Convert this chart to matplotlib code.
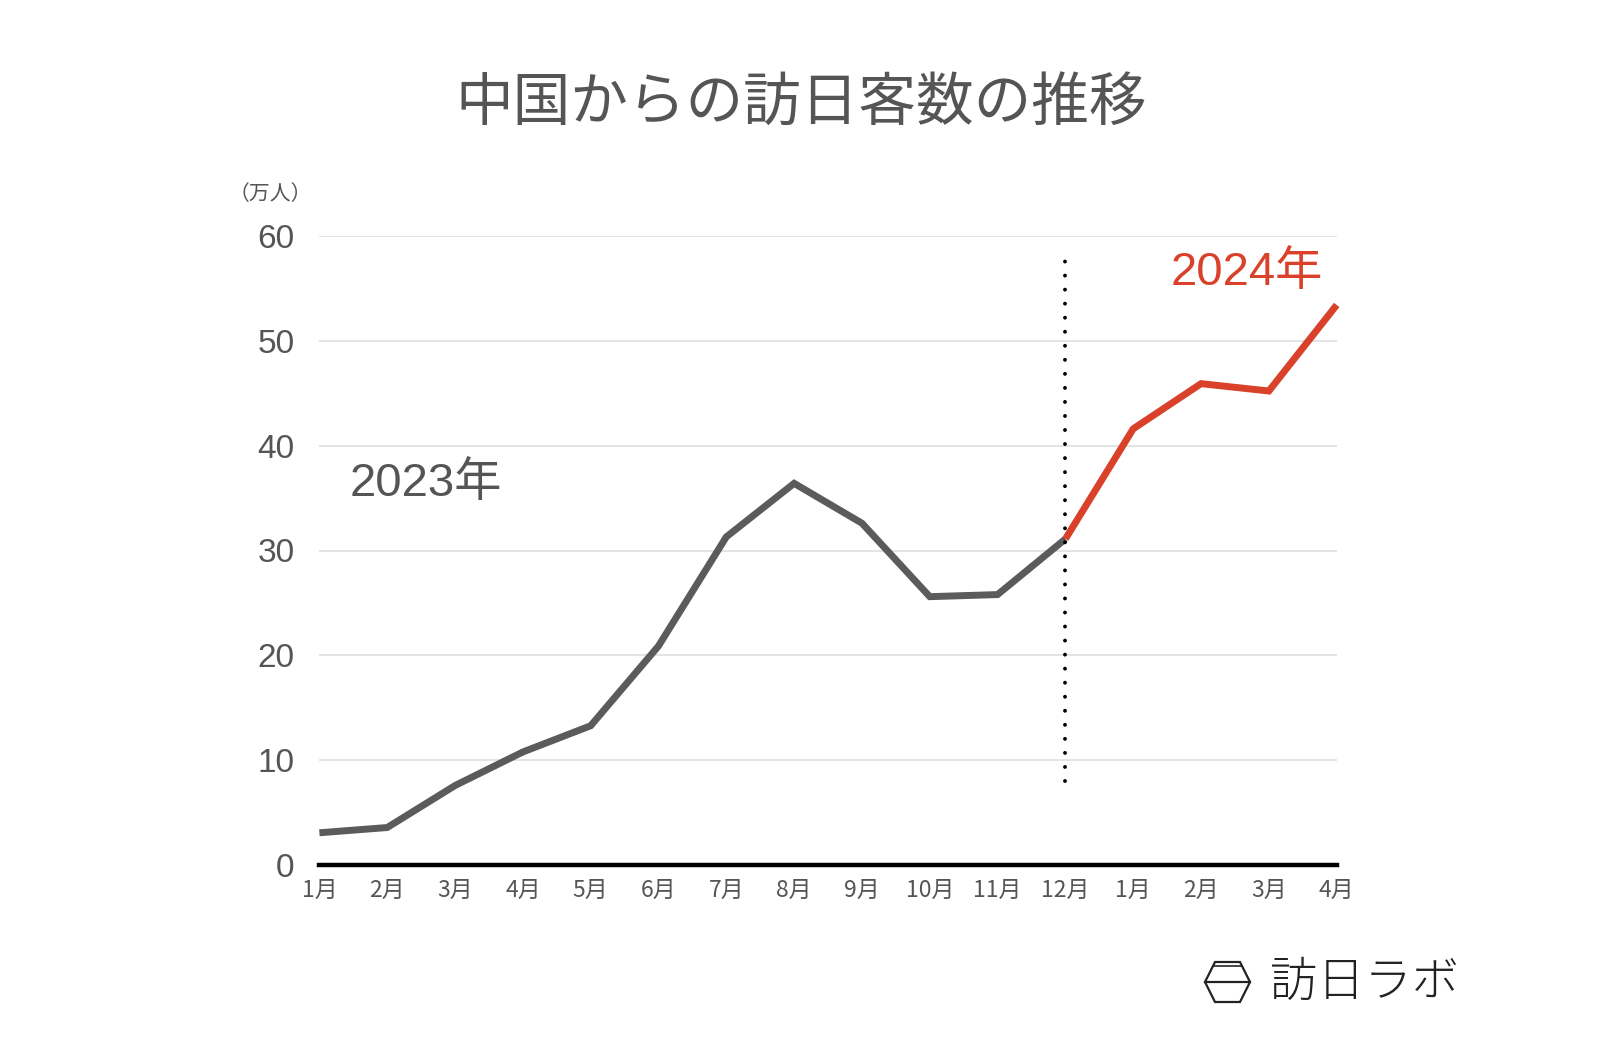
import matplotlib
matplotlib.use("Agg")
import matplotlib.pyplot as plt
from matplotlib.patches import Polygon
from matplotlib.lines import Line2D

plt.rcParams['font.family'] = ['Noto Sans CJK JP', 'DejaVu Sans']

# ---- data ----
month_labels = ["1月", "2月", "3月", "4月", "5月", "6月", "7月", "8月", "9月",
                "10月", "11月", "12月", "1月", "2月", "3月", "4月"]
visitors_2023 = [3.1, 3.6, 7.6, 10.8, 13.3, 20.9, 31.3, 36.4, 32.6, 25.6, 25.8, 31.1]
visitors_2024 = [31.1, 41.6, 45.9, 45.2, 53.4]  # starts at Dec 2023 to connect
y_ticks = [0, 10, 20, 30, 40, 50, 60]

W, H = 1600, 1048
fig = plt.figure(figsize=(W / 100, H / 100), dpi=100)

def fx(px):
    return px / W

def fy(py):
    return 1 - py / H

left, right, top, bottom = 319.4, 1336.7, 235.7, 865.3
ax = fig.add_axes([fx(left), fy(bottom), fx(right) - fx(left), (bottom - top) / H])

gray = "#5b5b5b"
red = "#d9412b"
text_gray = "#555555"
latin = ['Liberation Sans', 'Noto Sans CJK JP', 'DejaVu Sans']

x23 = list(range(len(visitors_2023)))
x24 = list(range(len(visitors_2023) - 1, len(visitors_2023) - 1 + len(visitors_2024)))

ax.plot(x23, visitors_2023, color=gray, lw=5.0, solid_joinstyle="miter", solid_capstyle="butt", zorder=3, clip_on=False)
ax.plot(x24, visitors_2024, color=red, lw=5.0, solid_joinstyle="miter", solid_capstyle="butt", zorder=3, clip_on=False)

# dotted divider at Dec 2023
ax.plot([11, 11], [8.0, 57.9], color="black", lw=2.8, linestyle=(0, (0.01, 3.6)),
        dash_capstyle="round", zorder=4)

ax.set_xlim(0, len(month_labels) - 1)
ax.set_ylim(0, 60)
ax.set_yticks(y_ticks)
ax.set_yticklabels([str(v) for v in y_ticks], fontsize=24, color=text_gray, family=latin)
ax.set_xticks(range(len(month_labels)))
ax.set_xticklabels(month_labels, fontsize=16.5, color=text_gray)
ax.tick_params(axis="y", length=0, pad=18)
ax.tick_params(axis="x", length=0, pad=10)

ax.grid(axis="y", color="#dddddd", lw=1.1)
ax.set_axisbelow(True)
for s in ["top", "right", "left"]:
    ax.spines[s].set_visible(False)
ax.spines["bottom"].set_color("black")
ax.spines["bottom"].set_linewidth(3.2)
ax.spines["bottom"].set_zorder(5)

# annotations
ax.text(1.57, 36.3, "2023年", fontsize=34, color=text_gray, ha="center", va="center", family=latin)
ax.text(13.67, 56.4, "2024年", fontsize=34, color=red, ha="center", va="center", family=latin)

fig.text(fx(270), fy(194), "（万人）", fontsize=15, color=text_gray, ha="center", va="center")
fig.text(fx(801), fy(104), "中国からの訪日客数の推移", fontsize=41.5, color=text_gray, ha="center", va="center")

# logo
hexagon = [(1215, 962), (1240, 962), (1250, 982), (1240, 1002), (1215, 1002), (1205, 982)]
fig.patches.append(Polygon([(fx(a), fy(b)) for a, b in hexagon], closed=True, fill=False,
                           edgecolor="#222222", lw=1.6, transform=fig.transFigure))
fig.lines.append(Line2D([fx(1205), fx(1250)], [fy(982), fy(982)], color="#222222", lw=1.6,
                        transform=fig.transFigure))
fig.lines.append(Line2D([fx(1213), fx(1242)], [fy(966), fy(966)], color="#222222", lw=1.2,
                        transform=fig.transFigure))
fig.text(fx(1365), fy(982), "訪日ラボ", fontsize=34, color="#222222", ha="center", va="center",
         fontweight="light")

fig.savefig("out.png", dpi=100, facecolor="white")
